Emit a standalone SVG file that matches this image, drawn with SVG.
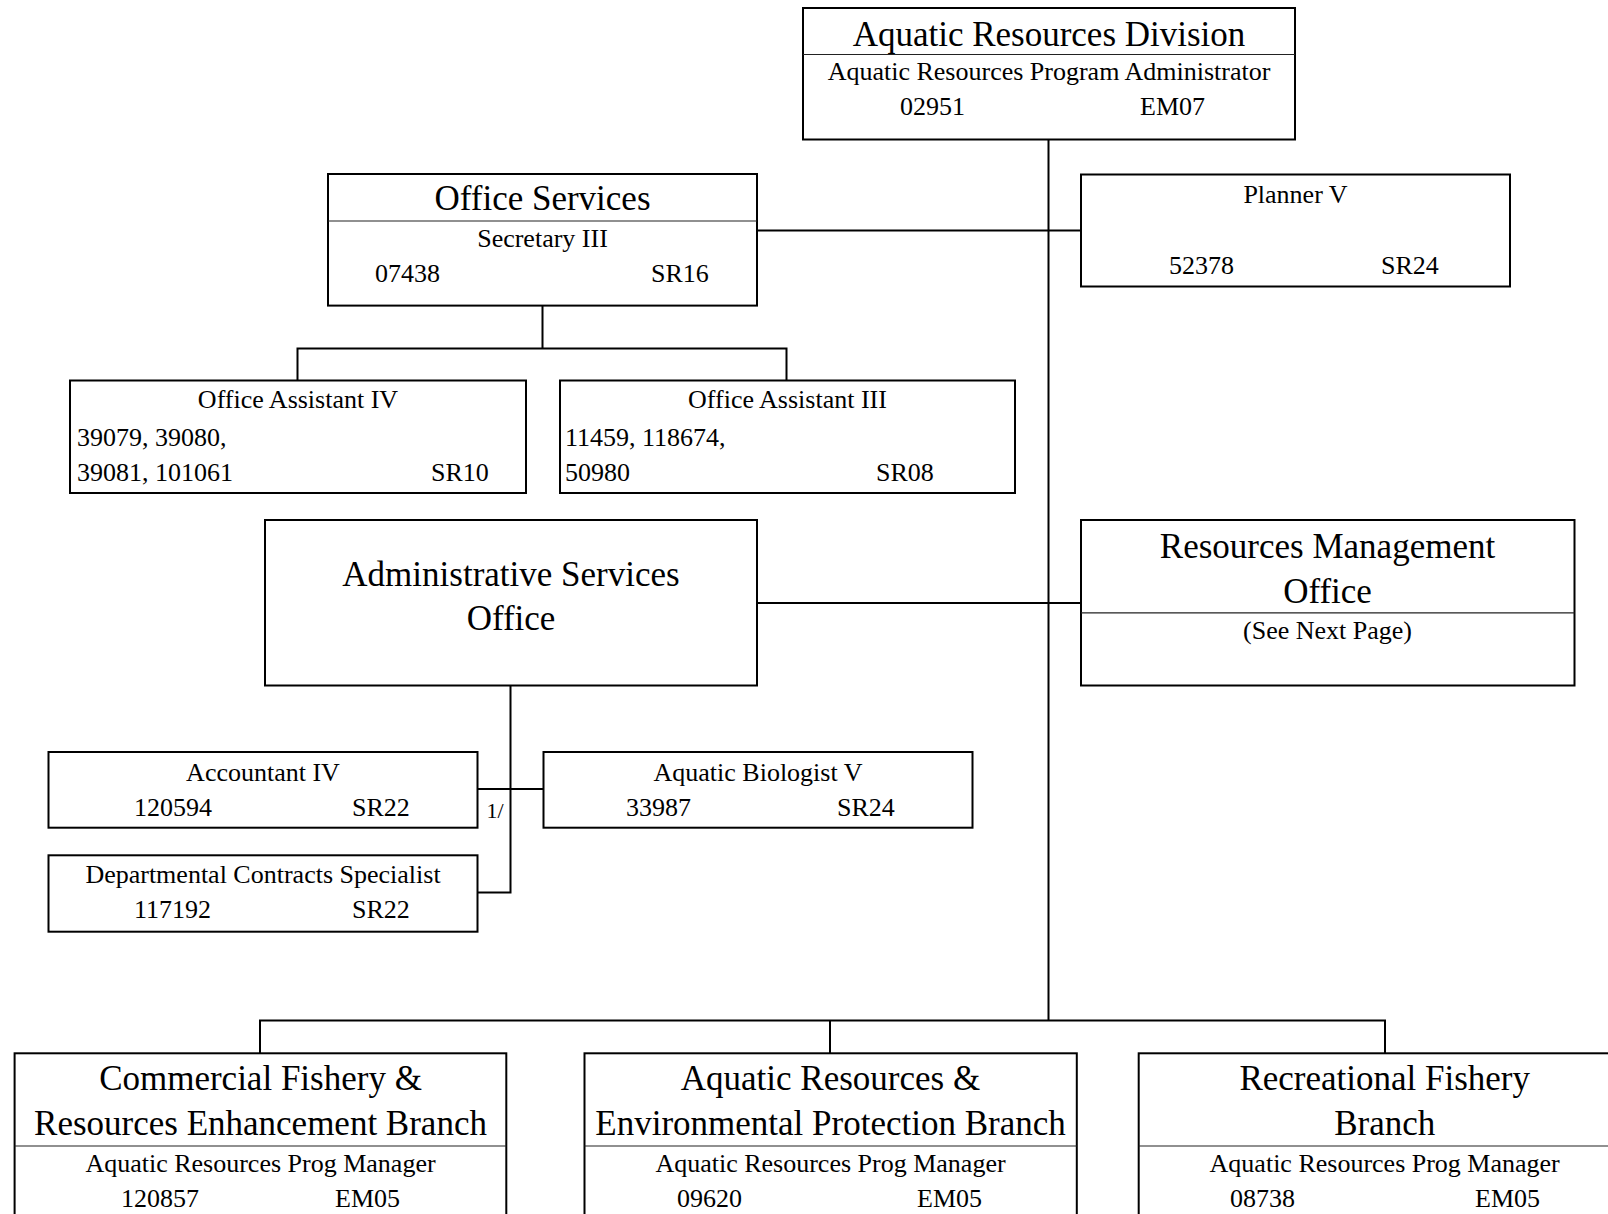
<svg xmlns="http://www.w3.org/2000/svg" width="1608" height="1214" viewBox="0 0 1608 1214">
<style>
text{font-family:"Liberation Serif","Times New Roman",serif;fill:#000}
.t35{font-size:35px}
.t26{font-size:26px}
.t22{font-size:22px}
.m{text-anchor:middle}
.box{fill:#fff;stroke:#000;stroke-width:2}
.dv{stroke:#222;stroke-width:1.2;fill:none}
.conn{stroke:#000;stroke-width:2;fill:none}
</style>
<rect width="1608" height="1214" fill="#fff"/>
<g id="connectors">
<path class="conn" d="M1048.5 139.5V1020.5"/>
<path class="conn" d="M757 230.5H1081"/>
<path class="conn" d="M542.5 305.6V348.5M297.5 380.5V348.5H786.5V380.5"/>
<path class="conn" d="M757 603H1081"/>
<path class="conn" d="M510.5 685.5V892.5H477.5"/>
<path class="conn" d="M477.5 789H543.5"/>
<path class="conn" d="M260 1053.3V1020.5H1385V1053.3M830 1020.5V1053.3"/>
<text class="t22" x="486.6" y="818">1/</text>
</g>
<g id="division">
<rect class="box" x="803" y="8" width="492" height="131.5"/>
<line class="dv" x1="803" y1="54.5" x2="1295" y2="54.5"/>
<text class="t35 m" x="1049" y="46">Aquatic Resources Division</text>
<text class="t26 m" x="1049" y="80">Aquatic Resources Program Administrator</text>
<text class="t26" x="900" y="115">02951</text>
<text class="t26" x="1140" y="115">EM07</text>
</g>
<g id="office-services">
<rect class="box" x="328" y="174" width="429" height="131.6"/>
<line class="dv" x1="328" y1="221" x2="757" y2="221"/>
<text class="t35 m" x="542.5" y="210">Office Services</text>
<text class="t26 m" x="542.5" y="247">Secretary III</text>
<text class="t26" x="375" y="282">07438</text>
<text class="t26" x="651" y="282">SR16</text>
</g>
<g id="planner">
<rect class="box" x="1081" y="174.5" width="429" height="112"/>
<text class="t26 m" x="1295.5" y="203">Planner V</text>
<text class="t26" x="1169" y="274">52378</text>
<text class="t26" x="1381" y="274">SR24</text>
</g>
<g id="office-assistant-iv">
<rect class="box" x="70" y="380.5" width="456" height="112.5"/>
<text class="t26 m" x="298" y="408">Office Assistant IV</text>
<text class="t26" x="77" y="446">39079, 39080,</text>
<text class="t26" x="77" y="481">39081, 101061</text>
<text class="t26" x="431" y="481">SR10</text>
</g>
<g id="office-assistant-iii">
<rect class="box" x="560" y="380.5" width="455" height="112.5"/>
<text class="t26 m" x="787.5" y="408">Office Assistant III</text>
<text class="t26" x="565" y="446">11459, 118674,</text>
<text class="t26" x="565" y="481">50980</text>
<text class="t26" x="876" y="481">SR08</text>
</g>
<g id="admin-services">
<rect class="box" x="265" y="520" width="492" height="165.5"/>
<text class="t35 m" x="511" y="586">Administrative Services</text>
<text class="t35 m" x="511" y="630">Office</text>
</g>
<g id="resources-management">
<rect class="box" x="1081" y="520" width="493.5" height="165.5"/>
<line class="dv" x1="1081" y1="612.8" x2="1574.5" y2="612.8"/>
<text class="t35 m" x="1327.5" y="557.7">Resources Management</text>
<text class="t35 m" x="1327.5" y="602.5">Office</text>
<text class="t26 m" x="1327.5" y="638.7">(See Next Page)</text>
</g>
<g id="accountant">
<rect class="box" x="48.5" y="752" width="429" height="75.7"/>
<text class="t26 m" x="263" y="781">Accountant IV</text>
<text class="t26" x="134" y="816">120594</text>
<text class="t26" x="352" y="816">SR22</text>
</g>
<g id="aquatic-biologist">
<rect class="box" x="543.5" y="752" width="429" height="75.7"/>
<text class="t26 m" x="758" y="781">Aquatic Biologist V</text>
<text class="t26" x="626" y="816">33987</text>
<text class="t26" x="837" y="816">SR24</text>
</g>
<g id="contracts-specialist">
<rect class="box" x="48.5" y="855.3" width="429" height="76.4"/>
<text class="t26 m" x="263" y="883">Departmental Contracts Specialist</text>
<text class="t26" x="134" y="918">117192</text>
<text class="t26" x="352" y="918">SR22</text>
</g>
<g id="commercial-fishery">
<rect class="box" x="14.6" y="1053.3" width="491.7" height="180"/>
<line class="dv" x1="14.6" y1="1146" x2="506.3" y2="1146"/>
<text class="t35 m" x="260.5" y="1090">Commercial Fishery &amp;</text>
<text class="t35 m" x="260.5" y="1135">Resources Enhancement Branch</text>
<text class="t26 m" x="260.5" y="1172">Aquatic Resources Prog Manager</text>
<text class="t26" x="121" y="1207">120857</text>
<text class="t26" x="335" y="1207">EM05</text>
</g>
<g id="environmental-protection">
<rect class="box" x="584.5" y="1053.3" width="492.3" height="180"/>
<line class="dv" x1="584.5" y1="1146" x2="1076.8" y2="1146"/>
<text class="t35 m" x="830.5" y="1090">Aquatic Resources &amp;</text>
<text class="t35 m" x="830.5" y="1135">Environmental Protection Branch</text>
<text class="t26 m" x="830.5" y="1172">Aquatic Resources Prog Manager</text>
<text class="t26" x="677" y="1207">09620</text>
<text class="t26" x="917" y="1207">EM05</text>
</g>
<g id="recreational-fishery">
<rect class="box" x="1138.7" y="1053.3" width="492" height="180"/>
<line class="dv" x1="1138.7" y1="1146" x2="1630.7" y2="1146"/>
<text class="t35 m" x="1384.7" y="1090">Recreational Fishery</text>
<text class="t35 m" x="1384.7" y="1135">Branch</text>
<text class="t26 m" x="1384.7" y="1172">Aquatic Resources Prog Manager</text>
<text class="t26" x="1230" y="1207">08738</text>
<text class="t26" x="1475" y="1207">EM05</text>
</g>
</svg>
